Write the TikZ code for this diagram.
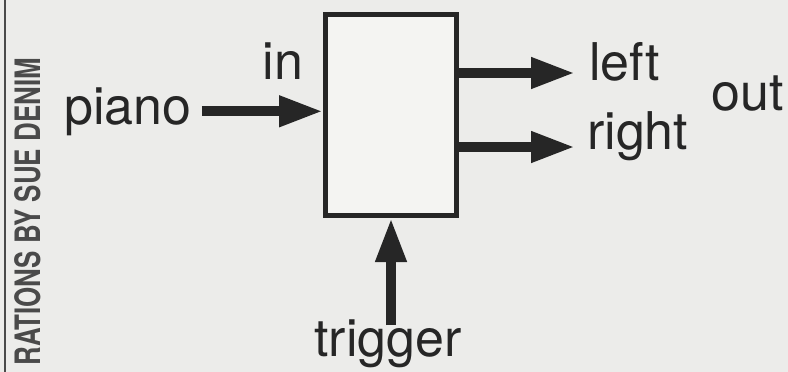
\documentclass[tikz,border=0pt]{standalone}
\usepackage{fontspec}
\setmainfont{TeX Gyre Heros}
\usetikzlibrary{arrows.meta,positioning}
\definecolor{Paper}{HTML}{ECECEA}
\definecolor{Ink}{HTML}{262626}
\definecolor{Credit}{HTML}{4A4A4A}

\begin{document}
\begin{tikzpicture}[x=1pt,y=-1pt,
  lbl/.style={font=\fontsize{52}{60}\selectfont,text=Ink,inner sep=0pt},
  credit/.style={font=\bfseries\fontsize{35}{40}\selectfont,text=Credit,inner sep=0pt,
    rotate=90,xscale=.74,anchor=east},
  unit/.style={draw=Ink,line width=5pt,fill=white!40!Paper,inner sep=0pt,
    minimum width=131pt,minimum height=201pt},
  sig/.style={-{Triangle[length=44pt,width=29pt]},line width=10pt,draw=Ink}]
\fill[Paper](0,0)rectangle(788,372);\useasboundingbox(0,0)rectangle(788,372);
\draw[Credit,line width=2.5pt](5,0)--(5,372);
\node[credit](credit)at(28,58){RATIONS BY SUE DENIM};
\node[unit](box)at(391,115){};
\node[lbl,anchor=base](in)at(283,79){in};
\node[lbl,anchor=base,inner xsep=10pt](piano)at(128,124){piano};
\draw[sig](piano.east)--(piano.east -| box.west);
\coordinate(lefttip)at(575,73);\coordinate(righttip)at(575,147);
\node[lbl,anchor=base west](left)at(589,80){left};
\node[lbl,anchor=base west](right)at(587,149){right};
\node[lbl,anchor=base west](out)at(711,110){out};
\draw[sig](box.east |- lefttip)--(lefttip);\draw[sig](box.east |- righttip)--(righttip);
\node[lbl,anchor=base](trigger)at(388,356){trigger};
\coordinate(trigfoot)at([yshift=31pt]trigger.base);
\draw[sig](box.south |- trigfoot)--(box.south);
\end{tikzpicture}
\end{document}
